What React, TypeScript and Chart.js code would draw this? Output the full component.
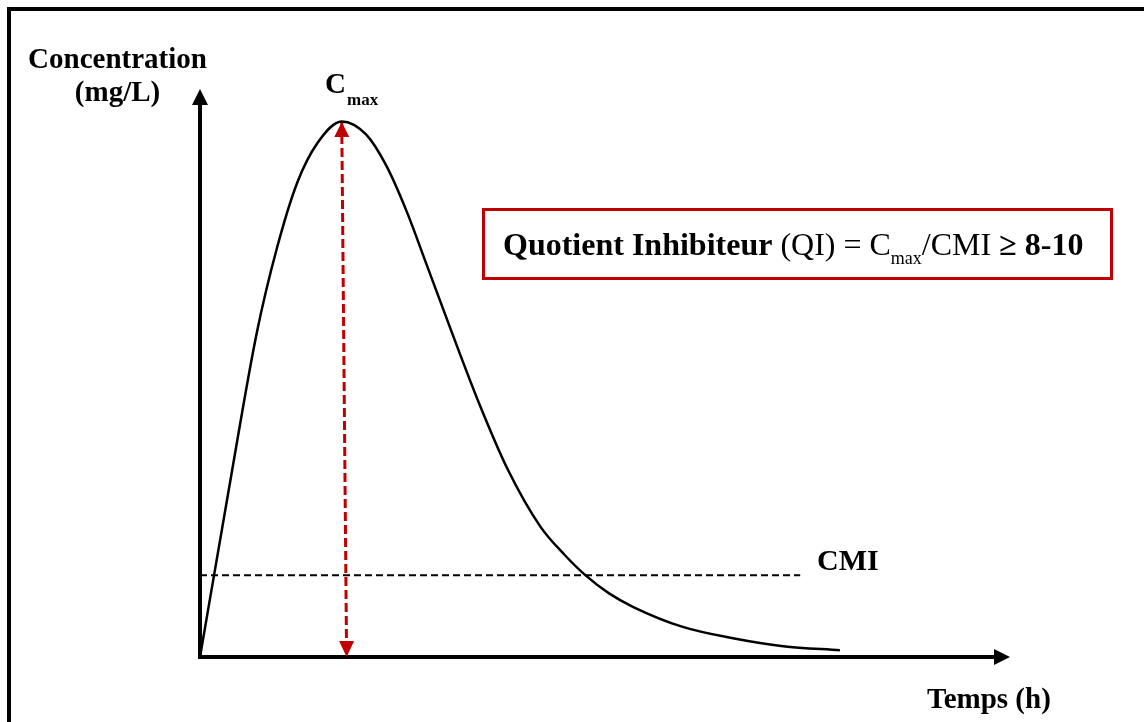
import React, { useEffect, useRef } from "react";
import { Chart, registerables } from "chart.js";

Chart.register(...registerables);

// Concentration curve (time units, concentration units)
const curveTimes = [0, 0.35, 0.7, 0.95, 1.2, 1.45, 1.75, 2.05, 2.3, 2.55, 2.8, 3.1, 3.45, 3.8, 4.2, 4.5, 4.75, 5.05, 5.35, 5.96, 6.58, 7.2, 7.9];
const curveConc = [0, 2.9, 5.7, 7.2, 8.35, 9.05, 9.43, 9.2, 8.65, 7.85, 6.9, 5.75, 4.45, 3.3, 2.3, 1.8, 1.45, 1.12, 0.88, 0.53, 0.33, 0.19, 0.12];
// CMI threshold line
const cmiTimes = [0, 7.41];
const cmiValue = [1.44, 1.44];
// Cmax arrow
const cmaxTimes = [1.75, 1.81];
const cmaxValues = [9.42, 0];

const yTitle = ["Concentration", "(mg/L)"];
const xTitle = "Temps (h)";
const cmiLabel = "CMI";
const cmaxMain = "C";
const cmaxSub = "max";
const qiParts = [
  { t: "Quotient Inhibiteur", w: "bold", sub: false },
  { t: " (QI) = C", w: "normal", sub: false },
  { t: "max", w: "normal", sub: true },
  { t: "/CMI ", w: "normal", sub: false },
  { t: "\u2265 8-10", w: "bold", sub: false },
];

const RED = "#c00000";
const FONT = "'Liberation Serif', 'Times New Roman', serif";

const overlay = {
  id: "overlay",
  afterDatasetsDraw(chart: any) {
    const ctx = chart.ctx as CanvasRenderingContext2D;
    const xs = chart.scales.x;
    const ys = chart.scales.y;
    const ox = xs.getPixelForValue(0);
    const oy = ys.getPixelForValue(0);
    const xEnd = xs.getPixelForValue(10);
    const yEnd = ys.getPixelForValue(10);
    ctx.save();
    // frame
    ctx.fillStyle = "#000";
    ctx.fillRect(7, 7, 1144, 4);
    ctx.fillRect(7, 7, 4, 722);
    // axes
    ctx.strokeStyle = "#000";
    ctx.lineWidth = 4;
    ctx.beginPath();
    ctx.moveTo(ox, oy + 2);
    ctx.lineTo(ox, yEnd + 14);
    ctx.moveTo(ox - 2, oy);
    ctx.lineTo(xEnd - 14, oy);
    ctx.stroke();
    ctx.beginPath();
    ctx.moveTo(ox, yEnd);
    ctx.lineTo(ox - 8, yEnd + 16);
    ctx.lineTo(ox + 8, yEnd + 16);
    ctx.closePath();
    ctx.fill();
    ctx.beginPath();
    ctx.moveTo(xEnd, oy);
    ctx.lineTo(xEnd - 16, oy - 8);
    ctx.lineTo(xEnd - 16, oy + 8);
    ctx.closePath();
    ctx.fill();
    // Cmax arrowheads
    const meta = chart.getDatasetMeta(2);
    const top = meta.data[0];
    const bot = meta.data[1];
    ctx.fillStyle = RED;
    ctx.beginPath();
    ctx.moveTo(top.x, top.y);
    ctx.lineTo(top.x - 7.5, top.y + 15);
    ctx.lineTo(top.x + 7.5, top.y + 15);
    ctx.closePath();
    ctx.fill();
    ctx.beginPath();
    ctx.moveTo(bot.x, bot.y);
    ctx.lineTo(bot.x - 7.5, bot.y - 16);
    ctx.lineTo(bot.x + 7.5, bot.y - 16);
    ctx.closePath();
    ctx.fill();
    // texts
    ctx.fillStyle = "#000";
    ctx.textBaseline = "alphabetic";
    ctx.textAlign = "center";
    ctx.font = `bold 29px ${FONT}`;
    ctx.fillText(yTitle[0], 117.5, 68);
    ctx.fillText(yTitle[1], 117.5, 101);
    ctx.textAlign = "left";
    ctx.fillText(xTitle, 927, 708);
    ctx.font = `bold 30px ${FONT}`;
    ctx.fillText(cmiLabel, 817, 570);
    ctx.font = `bold 29px ${FONT}`;
    ctx.fillText(cmaxMain, 325, 93);
    ctx.font = `bold 17px ${FONT}`;
    ctx.fillText(cmaxSub, 347, 105);
    // QI box
    ctx.strokeStyle = RED;
    ctx.lineWidth = 3;
    ctx.strokeRect(483.5, 209.5, 628, 69);
    ctx.fillStyle = "#000";
    let x = 503;
    for (const p of qiParts) {
      ctx.font = p.sub ? `${p.w} 18px ${FONT}` : `${p.w} 32px ${FONT}`;
      ctx.fillText(p.t, x, p.sub ? 264 : 255);
      x += ctx.measureText(p.t).width;
    }
    ctx.restore();
  },
};

export default function App() {
  const ref = useRef<HTMLCanvasElement | null>(null);
  useEffect(() => {
    if (!ref.current) return;
    const chart = new Chart(ref.current, {
      type: "line",
      data: {
        datasets: [
          {
            data: curveTimes.map((t, i) => ({ x: t, y: curveConc[i] })),
            borderColor: "#000",
            borderWidth: 2.5,
            pointRadius: 0,
            cubicInterpolationMode: "monotone",
            clip: false as any,
          },
          {
            data: cmiTimes.map((t, i) => ({ x: t, y: cmiValue[i] })),
            borderColor: "#000",
            borderWidth: 2,
            borderDash: [7, 4],
            pointRadius: 0,
            clip: false as any,
          },
          {
            data: cmaxTimes.map((t, i) => ({ x: t, y: cmaxValues[i] })),
            borderColor: RED,
            borderWidth: 3,
            borderDash: [9, 4],
            pointRadius: 0,
            clip: false as any,
          },
        ],
      },
      options: {
        animation: false,
        responsive: false,
        layout: { padding: { left: 200, right: 134, top: 89, bottom: 65 } },
        plugins: { legend: { display: false }, tooltip: { enabled: false } },
        scales: {
          x: { type: "linear", min: 0, max: 10, display: false },
          y: { type: "linear", min: 0, max: 10, display: false },
        },
      },
      plugins: [overlay],
    });
    return () => chart.destroy();
  }, []);
  return (
    <div style={{ position: "absolute", left: 0, top: 0, width: 1144, height: 722, background: "#fff" }}>
      <canvas ref={ref} width={1144} height={722} style={{ display: "block" }} />
    </div>
  );
}
